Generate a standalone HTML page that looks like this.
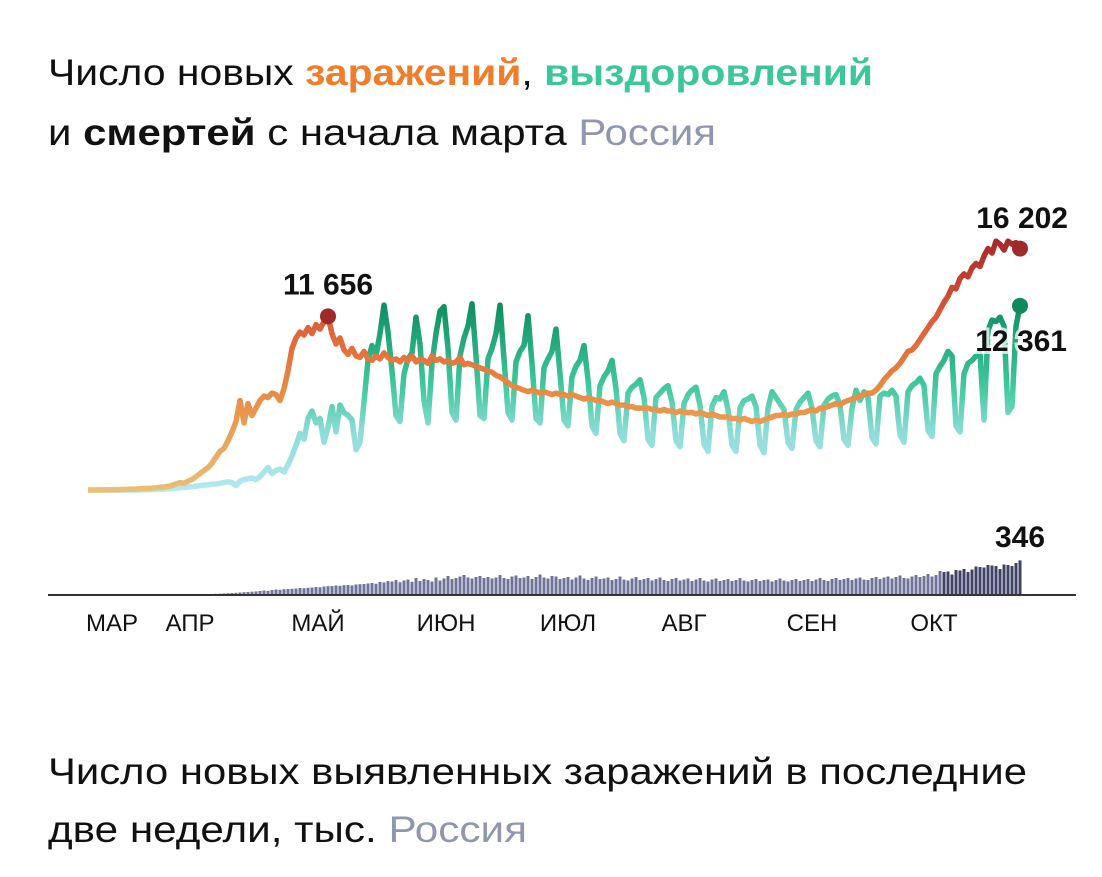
<!DOCTYPE html>
<html><head><meta charset="utf-8"><style>
html,body{margin:0;padding:0;background:#fff;}
svg{display:block;font-family:"Liberation Sans","DejaVu Sans",sans-serif;}
</style></head><body>
<svg id="chart" width="1102" height="877" viewBox="0 0 1102 877">
<defs>
<linearGradient id="gInf" gradientUnits="userSpaceOnUse" x1="0" y1="490" x2="0" y2="240">
<stop offset="0" stop-color="#e9bf72"/><stop offset="0.4" stop-color="#e98a42"/><stop offset="0.7" stop-color="#dc5a38"/><stop offset="1" stop-color="#a82828"/>
</linearGradient>
<linearGradient id="gRec" gradientUnits="userSpaceOnUse" x1="0" y1="490" x2="0" y2="300">
<stop offset="0" stop-color="#b4e8f2"/><stop offset="0.3" stop-color="#8fdcd8"/><stop offset="0.55" stop-color="#3fc89c"/><stop offset="1" stop-color="#0c8a5c"/>
</linearGradient>
</defs>
<text x="48" y="85" font-size="37" fill="#111" textLength="825" lengthAdjust="spacingAndGlyphs">Число новых <tspan font-weight="bold" fill="#f07c2c">заражений</tspan>, <tspan font-weight="bold" fill="#3cc79a">выздоровлений</tspan></text>
<text x="48" y="145" font-size="37" fill="#111" textLength="668" lengthAdjust="spacingAndGlyphs">и <tspan font-weight="bold">смертей</tspan> с начала марта  <tspan fill="#8f96b0">Россия</tspan></text>
<g id="bars"></g>
<line x1="48" y1="595" x2="1076" y2="595" stroke="#333" stroke-width="2"/>
<g id="ticks"></g>
<path id="recLine" fill="none" stroke="url(#gRec)" stroke-width="5.5" stroke-linejoin="round"/>
<path id="infLine" fill="none" stroke="url(#gInf)" stroke-width="5.5" stroke-linejoin="round"/>
<g id="annot"></g>
<text x="48" y="784" font-size="37" fill="#111" textLength="979" lengthAdjust="spacingAndGlyphs">Число новых выявленных заражений в последние</text>
<text x="48" y="842" font-size="37" fill="#111" textLength="479" lengthAdjust="spacingAndGlyphs">две недели, тыс.  <tspan fill="#8f96b0">Россия</tspan></text>
</svg>
<script>
const infections=[0,0,0,10,10,20,20,30,30,40,
50,60,60,80,100,100,120,150,180,200,
250,300,400,500,450,600,700,900,1100,1300,
1500,1800,2200,2600,2800,3300,3900,4600,6000,4500,
5800,5000,5500,6000,6300,6200,6500,6400,6000,6800,
8000,9500,10200,10600,10400,10900,10500,11100,10800,11300,
11656,10500,9800,10200,9400,9100,9500,9000,8900,9300,
8800,8700,9000,8800,9200,8900,8700,8800,8600,8900,
8700,9000,8600,8800,8700,8500,9000,8700,8800,8600,
8700,8500,8600,8900,8400,8500,8400,8300,8200,8100,
8000,7900,7700,7600,7400,7200,7000,6900,6800,6700,
6600,6700,6600,6500,6600,6500,6400,6500,6400,6400,
6300,6400,6300,6200,6100,6200,6100,6000,6000,5900,
5800,5900,5800,5700,5700,5600,5600,5500,5500,5500,
5500,5400,5400,5300,5400,5300,5300,5200,5300,5200,
5200,5200,5100,5200,5100,5000,5100,5000,4900,4900,
4900,4800,4800,4700,4800,4700,4600,4700,4600,4700,
4800,4900,5000,5000,5100,5000,5100,5100,5200,5200,
5300,5400,5300,5500,5500,5600,5700,5800,5700,5900,
6000,6100,6200,6300,6400,6500,6500,6700,7000,7400,
7700,8000,8200,8500,8900,9300,9400,9700,10100,10500,
10900,11300,11600,12100,12600,13000,13600,13500,14200,14500,
14300,14900,15200,15000,15700,16200,15900,16700,16500,16100,
16700,16500,16600,16202];
const recoveries=[0,0,0,0,0,0,0,0,0,0,
0,5,10,10,20,20,30,40,50,60,
80,100,120,150,180,200,230,250,300,330,
350,380,400,450,500,550,500,300,600,700,
750,800,700,900,1200,1500,1100,1300,1400,1200,
1700,2300,3000,3800,3400,4800,5300,4500,4800,3200,
4200,5600,3900,5700,5200,5000,4700,2700,3200,5900,
8700,9700,9000,10500,12400,10600,8000,
5000,4600,7800,8800,9200,11600,9800,
6000,4500,8500,10500,12000,12300,9500,
5200,4700,9000,10200,11000,12500,9000,
5000,4800,8800,9500,10500,12400,8800,
5200,4700,8600,9300,9700,11700,8500,
4800,4500,8200,8800,9300,10800,7800,
4700,4300,7600,8300,8700,9700,7400,
4300,3800,7000,7600,8000,8700,6800,
3800,3300,6500,6900,7100,7400,6200,
3400,3000,6200,6500,6800,7000,5900,
3300,2900,5800,6400,6700,6900,5700,
3100,2600,5600,6200,6100,6600,5400,
3000,2600,5500,6000,6100,6300,5600,
3000,2500,5500,6600,6200,5800,5400,
3200,2800,5400,5900,6200,6500,5500,
3300,2900,5700,6100,6300,6400,5700,
3400,3000,5500,6700,6000,6600,6200,
3500,3100,6300,6500,6400,6700,6300,
3700,3200,6600,7000,7200,7500,7000,
4000,3600,7800,8300,8700,9300,9000,
4300,3900,7800,8500,8700,9000,9200,
4700,10700,11400,11300,11600,11000,5200,5600,11000,12361];
const deaths=[0,0,0,0,0,0,0,0,0,0,
0,0,0,0,0,0,0,0,0,0,
1,1,2,2,3,4,5,6,7,8,
9,10,12,14,16,18,20,22,25,28,
30,33,36,40,45,42,50,55,52,58,
60,62,65,70,68,72,75,80,78,85,
88,90,95,92,98,100,96,105,108,110,
115,120,112,130,125,140,135,150,128,145,
155,132,170,140,160,150,135,175,145,165,
190,160,170,185,200,175,165,180,190,170,
180,165,175,200,170,160,185,195,170,175,
190,160,180,205,175,165,190,185,160,170,
180,155,175,195,165,150,170,185,160,165,
175,150,160,185,155,145,165,180,150,160,
170,145,160,175,150,140,160,170,145,155,
165,140,155,170,145,135,155,165,140,150,
160,140,150,170,145,135,150,160,140,150,
155,135,150,165,145,135,150,160,140,150,
160,140,155,170,150,140,160,170,150,160,
170,150,165,175,155,150,170,180,160,175,
185,165,180,195,170,165,185,200,180,190,
210,185,200,240,230,235,205,250,245,260,
230,255,285,280,275,300,295,290,260,305,
300,290,320,346];
const monthLabels=["МАР","АПР","МАЙ","ИЮН","ИЮЛ","АВГ","СЕН","ОКТ"];
const monthDays=[6,25.5,57.5,89.5,120,149,181,211.5];

const X0=88, DX=4;
function xs(d){return X0+d*DX;}
function yLine(v){return 490-v*0.0149;}
const NS="http://www.w3.org/2000/svg";
function pathFor(arr){return arr.map((v,i)=>(i?"L":"M")+xs(i).toFixed(1)+" "+yLine(v).toFixed(1)).join(" ");}
document.getElementById('infLine').setAttribute('d',pathFor(infections));
document.getElementById('recLine').setAttribute('d',pathFor(recoveries));

const bars=document.getElementById('bars');
deaths.forEach((v,i)=>{
  const r=document.createElementNS(NS,'rect');
  
  
  const h=Math.max(v*0.1,1);
  r.setAttribute('x',xs(i)-1.5);r.setAttribute('y',595-h);
  r.setAttribute('width',3);r.setAttribute('height',h);
  r.setAttribute('fill',i>=deaths.length-20?'#3e4266':'#6f7399');
  bars.appendChild(r);
});
const ticks=document.getElementById('ticks');
monthLabels.forEach((m,i)=>{
  const t=document.createElementNS(NS,'text');
  
  
  t.setAttribute('x',xs(monthDays[i]));t.setAttribute('y',631);
  t.setAttribute('font-size','24');t.setAttribute('text-anchor','middle');t.setAttribute('fill','#111');
  t.textContent=m;ticks.appendChild(t);
});
const an=document.getElementById('annot');
function dot(d,v,c,name){
  const e=document.createElementNS(NS,'circle');
  
  
  e.setAttribute('cx',xs(d));e.setAttribute('cy',yLine(v));e.setAttribute('r',8);e.setAttribute('fill',c);
  an.appendChild(e);
}
function label(x,y,txt,anchor,name){
  const t=document.createElementNS(NS,'text');
  
  
  t.setAttribute('x',x);t.setAttribute('y',y);t.setAttribute('font-size','30');t.setAttribute('font-weight','bold');
  t.setAttribute('text-anchor',anchor);t.setAttribute('fill','#111');
  t.setAttribute('stroke','rgba(255,255,255,0.75)');t.setAttribute('stroke-width','6');t.setAttribute('paint-order','stroke');
  t.textContent=txt;an.appendChild(t);
}
let pk=infections.indexOf(Math.max(...infections.slice(0,120)));
dot(pk,infections[pk],'#9e2a2b','first-peak-dot');
label(xs(pk),yLine(infections[pk])-22,'11 656','middle','first-peak-label');
const L=infections.length-1;
dot(L,infections[L],'#9e2a2b','last-infections-dot');
label(1068,228,String(infections[L]).replace(/\B(?=(\d{3})+$)/,' '),'end','last-infections-label');
const LR=recoveries.length-1;
dot(LR,recoveries[LR],'#0f8a5a','last-recoveries-dot');
label(1067,351,String(recoveries[LR]).replace(/\B(?=(\d{3})+$)/,' '),'end','last-recoveries-label');
const LD=deaths.length-1;
label(xs(LD),547,String(deaths[LD]),'middle','last-deaths-label');
</script>
</body></html>
